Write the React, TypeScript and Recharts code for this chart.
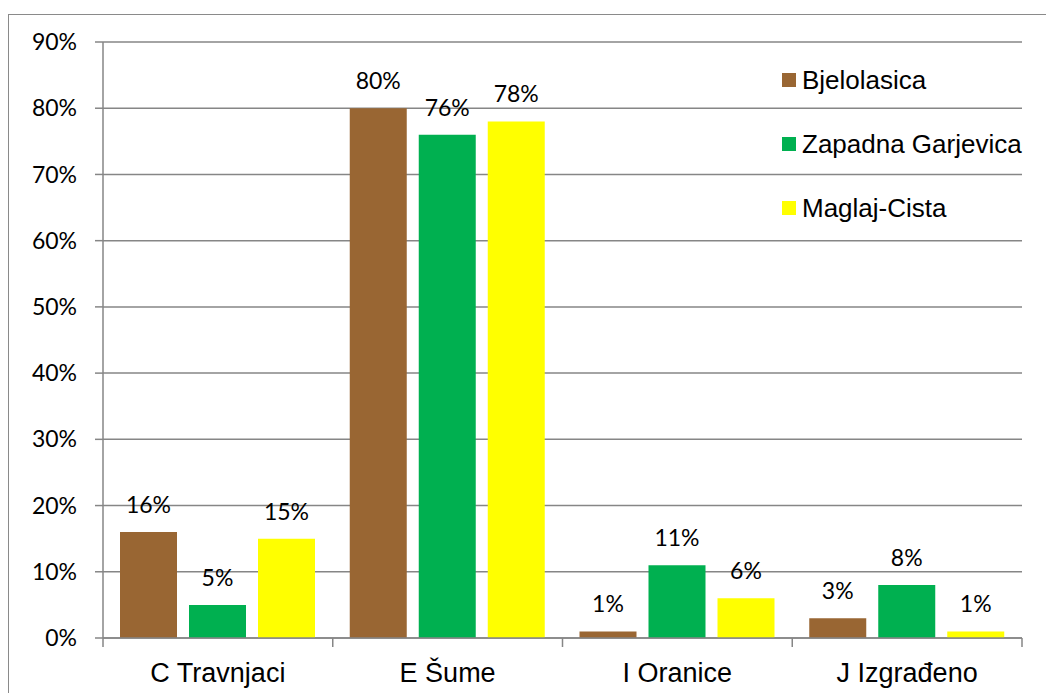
import React from 'react';
import { BarChart, Bar, XAxis, YAxis, CartesianGrid, Legend, LabelList } from 'recharts';

const categories = ['C Travnjaci', 'E Šume', 'I Oranice', 'J Izgrađeno'];
const bjelolasica = [16, 80, 1, 3];
const zapadnaGarjevica = [5, 76, 11, 8];
const maglajCista = [15, 78, 6, 1];
const yTicks = [0, 10, 20, 30, 40, 50, 60, 70, 80, 90];

const seriesNames = ['Bjelolasica', 'Zapadna Garjevica', 'Maglaj-Cista'];
const seriesKeys = ['b', 'z', 'm'];
const seriesColors = ['#996633', '#00B050', '#FFFF00'];

const data = categories.map((c, i) => ({
  name: c,
  b: bjelolasica[i],
  z: zapadnaGarjevica[i],
  m: maglajCista[i],
}));

const GRID = '#868686';
const PCT_FONT = 'Lato, "Open Sans", sans-serif';
const ARIAL = '"Liberation Sans", Arial, sans-serif';

const CategoryTick = (props: any) => {
  const { x, y, payload, index, width } = props;
  const half = payload && typeof payload.offset === 'number' && payload.offset > 0
    ? payload.offset
    : (width || 919) / categories.length / 2;
  return (
    <g>
      <line x1={x - half} x2={x - half} y1={y} y2={y + 9} stroke={GRID} strokeWidth={1.5} />
      {index === categories.length - 1 && (
        <line x1={x + half} x2={x + half} y1={y} y2={y + 9} stroke={GRID} strokeWidth={1.5} />
      )}
      <text
        x={x}
        y={y + 35}
        textAnchor="middle"
        dominantBaseline="central"
        fontFamily={ARIAL}
        fontSize={27}
        fill="#000"
      >
        {payload.value}
      </text>
    </g>
  );
};

const LegendContent = () => (
  <div style={{ display: 'flex', flexDirection: 'column' }}>
    {seriesNames.map((n, i) => (
      <div key={n} style={{ display: 'flex', alignItems: 'center', height: 64 }}>
        <div style={{ width: 14, height: 14, background: seriesColors[i], marginRight: 6 }} />
        <span style={{ fontFamily: ARIAL, fontSize: 26, color: '#000', whiteSpace: 'nowrap' }}>{n}</span>
      </div>
    ))}
  </div>
);

export default function App() {
  return (
    <div style={{ position: 'relative', width: 1046, height: 685, overflow: 'hidden' }}>
      <div
        style={{
          position: 'absolute',
          left: 0,
          top: 6,
          width: 1300,
          height: 900,
          border: '1.5px solid #8a8a8a',
          boxSizing: 'border-box',
        }}
      />
      <div style={{ position: 'absolute', left: 0, top: 0 }}>
        <BarChart
          width={1046}
          height={685}
          data={data}
          margin={{ top: 34, right: 32, left: 15, bottom: 0 }}
          barCategoryGap={17}
          barGap={12}
        >
          <CartesianGrid vertical={false} stroke={GRID} strokeWidth={1.5} />
          <XAxis
            dataKey="name"
            height={55}
            axisLine={{ stroke: GRID, strokeWidth: 1.5 }}
            tickLine={false}
            tickSize={0}
            tickMargin={0}
            tick={<CategoryTick />}
            interval={0}
          />
          <YAxis
            width={80}
            domain={[0, 90]}
            ticks={yTicks}
            tickFormatter={(v: number) => `${v}%`}
            axisLine={{ stroke: GRID, strokeWidth: 1.5 }}
            tickLine={{ stroke: GRID, strokeWidth: 1.5 }}
            tickSize={8}
            tickMargin={18}
            tick={{ fontFamily: PCT_FONT, fontSize: 23, fill: '#000' }}
            interval={0}
          />
          <Legend
            layout="vertical"
            align="center"
            verticalAlign="middle"
            content={<LegendContent />}
            wrapperStyle={{ position: 'absolute', left: 774, top: 40, width: 'auto', height: 'auto' }}
          />
          {seriesKeys.map((k, i) => (
            <Bar key={k} dataKey={k} name={seriesNames[i]} fill={seriesColors[i]} isAnimationActive={false}>
              <LabelList
                dataKey={k}
                position="top"
                offset={19}
                formatter={(v: any) => `${v}%`}
                style={{ fontFamily: PCT_FONT, fontSize: 23, fill: '#000' }}
              />
            </Bar>
          ))}
        </BarChart>
      </div>
    </div>
  );
}
